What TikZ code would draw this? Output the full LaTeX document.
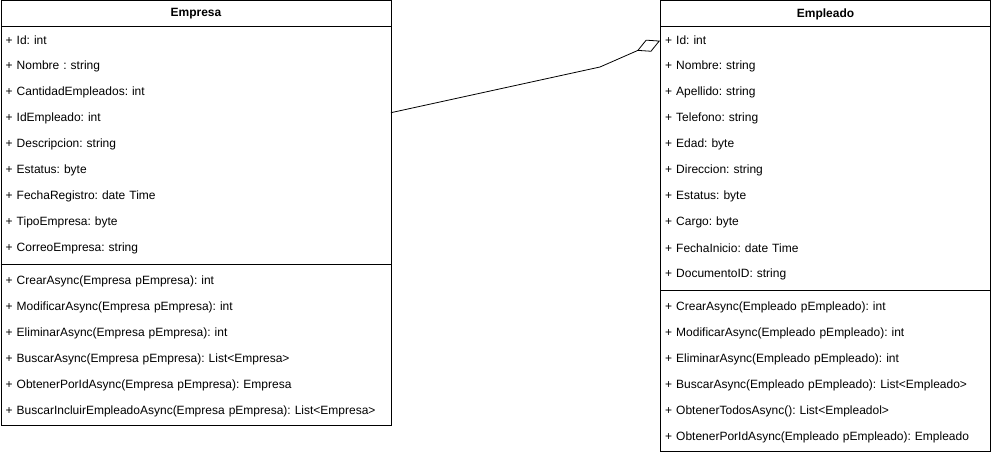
\documentclass[tikz,border=0pt]{standalone}
\usepackage{fontspec}
\setmainfont{Liberation Sans}
\usetikzlibrary{arrows.meta, positioning, calc}
\frenchspacing

\begin{document}
\begin{tikzpicture}[
    x=1pt, y=1pt,
    box/.style={
        rectangle,
        draw=black,
        line width=1pt,
        anchor=north west,
        inner sep=0pt
    },
    header/.style={
        rectangle,
        draw=black,
        line width=1pt,
        anchor=north west,
        minimum height=26pt,
        minimum width=#1,
        font=\fontsize{12}{14}\selectfont\bfseries
    },
    member/.style={
        rectangle,
        anchor=north west,
        minimum height=26pt,
        text width=#1,
        inner xsep=5pt,
        inner ysep=0pt,
        align=left,
        font=\fontsize{12}{14}\selectfont
    },
    aggr/.style={-{Diamond[open, length=25pt, width=13pt]}, line width=0.8pt}
]
    \useasboundingbox (0,0) rectangle (991,-454);

    % Empresa
    \node[box, minimum width=390pt, minimum height=424pt] (empresa) at (0.5,-0.5) {};
    \node[header=390pt] (empresaHead) at (empresa.north west) {Empresa};
    \foreach \txt [count=\i] in {
        + Id: int,
        + Nombre : string,
        + CantidadEmpleados: int,
        + IdEmpleado: int,
        + Descripcion: string,
        + Estatus: byte,
        + FechaRegistro: date Time,
        + TipoEmpresa: byte,
        + CorreoEmpresa: string}
        \node[member=380pt] (empresaA\i) at ($(empresaHead.south west)+(0,{-26*(\i-1)})$) {\txt};
    \draw[line width=1pt] ($(empresa.north west)+(0,-264)$) coordinate (empresaSep) -- (empresaSep -| empresa.east);
    \foreach \txt [count=\i] in {
        + CrearAsync(Empresa pEmpresa): int,
        + ModificarAsync(Empresa pEmpresa): int,
        + EliminarAsync(Empresa pEmpresa): int,
        + BuscarAsync(Empresa pEmpresa): List<Empresa>,
        + ObtenerPorIdAsync(Empresa pEmpresa): Empresa,
        + BuscarIncluirEmpleadoAsync(Empresa pEmpresa): List<Empresa>}
        \node[member=380pt] (empresaM\i) at ($(empresaSep)+(0,{-4-26*(\i-1)})$) {\txt};

    % Empleado
    \node[box, minimum width=330pt, minimum height=450pt] (empleado) at (660,-0.5) {};
    \node[header=330pt] (empleadoHead) at (empleado.north west) {Empleado};
    \foreach \txt [count=\i] in {
        + Id: int,
        + Nombre: string,
        + Apellido: string,
        + Telefono: string,
        + Edad: byte,
        + Direccion: string,
        + Estatus: byte,
        + Cargo: byte,
        + FechaInicio: date Time,
        + DocumentoID: string}
        \node[member=320pt] (empleadoA\i) at ($(empleadoHead.south west)+(0,{-26*(\i-1)})$) {\txt};
    \draw[line width=1pt] ($(empleado.north west)+(0,-290)$) coordinate (empleadoSep) -- (empleadoSep -| empleado.east);
    \foreach \txt [count=\i] in {
        + CrearAsync(Empleado pEmpleado): int,
        + ModificarAsync(Empleado pEmpleado): int,
        + EliminarAsync(Empleado pEmpleado): int,
        + BuscarAsync(Empleado pEmpleado): List<Empleado>,
        + ObtenerTodosAsync(): List<Empleadol>,
        + ObtenerPorIdAsync(Empleado pEmpleado): Empleado}
        \node[member=320pt] (empleadoM\i) at ($(empleadoSep)+(0,{-4-26*(\i-1)})$) {\txt};

    % Aggregation
    \coordinate (bend) at (600,-67);
    \draw[aggr] ([yshift=6pt]empresaA4.east) -- (bend) -- (empleadoA1.west);

\end{tikzpicture}
\end{document}
